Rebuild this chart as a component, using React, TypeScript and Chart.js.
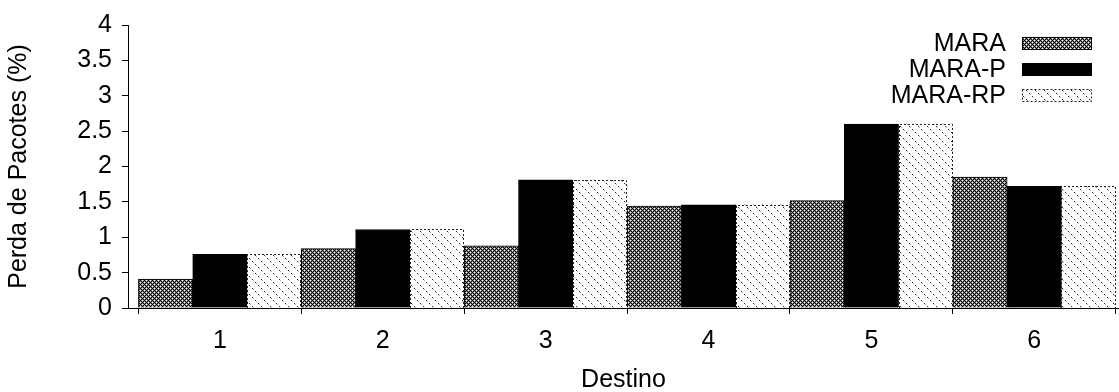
import React, { useEffect, useRef } from "react";
import { Chart, registerables } from "chart.js";

Chart.register(...registerables);

const categories = [1, 2, 3, 4, 5, 6];
const seriesNames = ["MARA", "MARA-P", "MARA-RP"];
const mara = [0.41, 0.84, 0.88, 1.44, 1.52, 1.85];
const maraP = [0.76, 1.11, 1.81, 1.46, 2.6, 1.72];
const maraRP = [0.76, 1.11, 1.81, 1.46, 2.6, 1.72];
const yTicks = [0, 0.5, 1, 1.5, 2, 2.5, 3, 3.5, 4];
const xTitle = "Destino";
const yTitle = "Perda de Pacotes (%)";

const FONT = "'Liberation Sans', Arial, Helvetica, sans-serif";
const FS = 25;

function makeCross(ctx: CanvasRenderingContext2D): CanvasPattern {
  const t = document.createElement("canvas");
  t.width = 4;
  t.height = 4;
  const c = t.getContext("2d")!;
  for (let x = 0; x < 4; x++) {
    for (let y = 0; y < 4; y++) {
      const s = (x + y) % 4;
      const d = (x - y + 4) % 4;
      let col = "#8a8a8a";
      if (s === 0 || d === 0) col = "#000";
      else if (s === 2 && d === 2) col = "#fff";
      c.fillStyle = col;
      c.fillRect(x, y, 1, 1);
    }
  }
  return ctx.createPattern(t, "repeat")!;
}

function makeDiag(ctx: CanvasRenderingContext2D): CanvasPattern {
  const n = 9;
  const t = document.createElement("canvas");
  t.width = n;
  t.height = n;
  const c = t.getContext("2d")!;
  c.fillStyle = "#fff";
  c.fillRect(0, 0, n, n);
  for (let i = 0; i < n; i++) {
    if (i % 3 === 0) {
      c.fillStyle = "#222";
      c.fillRect(i, i, 1, 1);
    } else if (i % 3 === 1) {
      c.fillStyle = "#aaa";
      c.fillRect(i, i, 1, 1);
    }
  }
  return ctx.createPattern(t, "repeat")!;
}

export default function App() {
  const ref = useRef<HTMLCanvasElement | null>(null);

  useEffect(() => {
    document.body.style.margin = "0";
    const canvas = ref.current!;
    const ctx = canvas.getContext("2d")!;
    const cross = makeCross(ctx);
    const diag = makeDiag(ctx);
    const fills = [cross, "#000", diag];

    const dashedOutline = {
      id: "dashedOutline",
      afterDatasetsDraw(chart: any) {
        const c = chart.ctx;
        const meta = chart.getDatasetMeta(2);
        c.save();
        c.strokeStyle = "#222";
        c.lineWidth = 1;
        c.setLineDash([2, 2]);
        meta.data.forEach((el: any) => {
          const p = el.getProps(["x", "y", "base", "width"], true);
          const l = Math.round(p.x - p.width / 2) + 0.5;
          const r = Math.round(p.x + p.width / 2) - 0.5;
          const t = Math.round(p.y) + 0.5;
          const b = Math.round(p.base);
          c.beginPath();
          c.moveTo(l, b);
          c.lineTo(l, t);
          c.lineTo(r, t);
          c.lineTo(r, b);
          c.stroke();
        });
        c.restore();
      },
    };

    const legend = {
      id: "customLegend",
      afterDraw(chart: any) {
        const c = chart.ctx;
        const area = chart.chartArea;
        const boxW = 70;
        const boxH = 13;
        const boxR = area.right - 27;
        const boxL = boxR - boxW;
        const textR = boxL - 16;
        c.save();
        c.font = `${FS}px ${FONT}`;
        c.textAlign = "right";
        c.textBaseline = "middle";
        seriesNames.forEach((name, i) => {
          const cy = area.top + 18.5 + i * 26;
          c.fillStyle = "#000";
          c.fillText(name, textR, cy + 1);
          const top = Math.round(cy - boxH / 2);
          c.fillStyle = fills[i] as any;
          c.fillRect(boxL, top, boxW, boxH);
          c.lineWidth = 1;
          if (i === 2) {
            c.setLineDash([2, 2]);
            c.strokeStyle = "#222";
          } else {
            c.setLineDash([]);
            c.strokeStyle = "#000";
          }
          c.strokeRect(boxL + 0.5, top + 0.5, boxW - 1, boxH - 1);
        });
        c.restore();
      },
    };

    const series = [mara, maraP, maraRP];
    const chart = new Chart(canvas, {
      type: "bar",
      data: {
        datasets: series.map((vals, i) => ({
          label: seriesNames[i],
          data: vals.map((v, k) => ({ x: categories[k], y: v })),
          backgroundColor: fills[i] as any,
          borderColor: "#000",
          borderWidth: i === 2 ? 0 : 1,
          categoryPercentage: 1,
          barPercentage: 1,
        })),
      },
      options: {
        responsive: false,
        animation: false,
        events: [],
        layout: { padding: { top: 20, right: 0, left: 0, bottom: 0 } },
        plugins: { legend: { display: false }, tooltip: { enabled: false } },
        font: { family: FONT },
        scales: {
          x: {
            type: "linear",
            min: 0.436,
            max: 6.52,
            offset: false,
            afterBuildTicks: (s: any) => {
              s.ticks = categories.map((v) => ({ value: v }));
            },
            afterFit: (s: any) => {
              s.height = 84;
            },
            grid: {
              display: true,
              drawOnChartArea: false,
              drawTicks: true,
              tickLength: 6,
              color: "#000",
              lineWidth: 1,
            },
            border: { display: true, color: "#000", width: 1 },
            ticks: {
              color: "#000",
              font: { size: FS, family: FONT },
              padding: 12,
              maxRotation: 0,
              autoSkip: false,
              callback: (v: any) => String(v),
            },
            title: {
              display: true,
              text: xTitle,
              color: "#000",
              font: { size: FS, family: FONT, lineHeight: 1 },
              padding: { top: 0, bottom: -1 },
            },
          },
          y: {
            type: "linear",
            min: 0,
            max: 4,
            afterBuildTicks: (s: any) => {
              s.ticks = yTicks.map((v) => ({ value: v }));
            },
            afterFit: (s: any) => {
              s.width = 128;
            },
            grid: {
              display: true,
              drawOnChartArea: false,
              drawTicks: true,
              tickLength: 6,
              color: "#000",
              lineWidth: 1,
            },
            border: { display: true, color: "#000", width: 1 },
            ticks: {
              color: "#000",
              font: { size: FS, family: FONT },
              padding: 10,
              callback: (v: any) => String(v),
            },
            title: {
              display: true,
              text: yTitle,
              color: "#000",
              font: { size: FS, family: FONT, lineHeight: 1 },
              padding: { top: 7, bottom: 0 },
            },
          },
        },
      },
      plugins: [dashedOutline, legend],
    } as any);

    return () => chart.destroy();
  }, []);

  return (
    <div style={{ position: "absolute", left: 0, top: 0, width: 1119, height: 392, background: "#fff" }}>
      <canvas ref={ref} width={1119} height={392} style={{ display: "block", width: 1119, height: 392 }} />
    </div>
  );
}
